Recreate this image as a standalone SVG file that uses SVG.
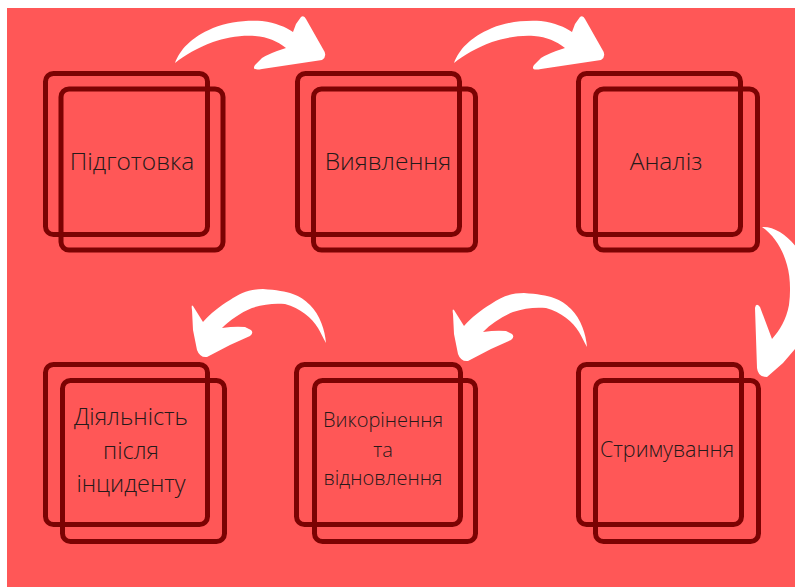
<svg xmlns="http://www.w3.org/2000/svg" width="795" height="587" viewBox="0 0 795 587">
  <style>
    .frame { fill: none; stroke: #7b0303; stroke-width: 5; }
    .label { font-family: "Open Sans", "Liberation Sans", sans-serif; font-weight: 300; fill: #261a1a; text-anchor: middle; }
    .arrow { fill: #ffffff; }
  </style>
  <defs>
    <!-- curved brush arrow pointing right/down, used on the top row -->
    <path id="arrowRight" d="M175,63 C180,50 190,38 213,28 C228,22 245,20 262,21 C276,23 286,27 293,32 L296,24 L301,17 Q304,15 306,19 L323,49 Q328,56 322,60 L262,69 Q251,71 255,65 L262,58 Q270,53 286,48 C277,41 268,37 255,36 C240,35 225,38 213,42 C197,48 185,55 175,63 Z"/>
    <!-- curved brush arrow pointing left/down, used on the bottom row -->
    <path id="arrowLeft" d="M326,343 C325,330 320,315 310,305 C300,295 290,291 263,289 C250,289 240,293 230,300 C220,306 210,314 203,322 L193,306 Q191,304 192,310 L193,330 L197,350 Q200,358 207,357 L230,345 L250,336 Q254,333 251,330 L245,327 Q235,326 222,328 C230,320 240,313 252,308 C263,304 275,303 285,304 C300,308 312,318 318,328 C321,333 323,338 326,343 Z"/>
  </defs>

  <!-- canvas -->
  <rect x="0" y="0" width="795" height="587" fill="#ffffff"/>
  <rect x="7" y="8" width="788" height="579" fill="#ff5757"/>

  <!-- connectors -->
  <g id="connectors">
    <use href="#arrowRight" class="arrow"/>
    <use href="#arrowRight" class="arrow" transform="translate(279,0)"/>
    <path class="arrow" d="M762,227 C776,226 792,238 802,256 L812,300 L800,344 L795,349 L783,363 L767,377 Q758,377 757,368 L755,308 Q756,302 760,307 L772,339 C780,330 786,320 789,305 C791,290 790,275 787,265 C783,250 775,236 762,227 Z"/>
    <use href="#arrowLeft" class="arrow" transform="translate(261,4)"/>
    <use href="#arrowLeft" class="arrow"/>
  </g>

  <!-- node 1 -->
  <g id="node-preparation">
    <rect class="frame" x="45.5" y="73.5" width="162" height="161" rx="8"/>
    <rect class="frame" x="61" y="89" width="162" height="161" rx="8"/>
    <text class="label" x="132" y="170" font-size="24.5">Підготовка</text>
  </g>

  <!-- node 2 -->
  <g id="node-detection">
    <rect class="frame" x="297.5" y="73.5" width="162" height="161" rx="8"/>
    <rect class="frame" x="313.5" y="89" width="162" height="161" rx="8"/>
    <text class="label" x="388" y="170" font-size="24.5">Виявлення</text>
  </g>

  <!-- node 3 -->
  <g id="node-analysis">
    <rect class="frame" x="578.5" y="73.5" width="162" height="161" rx="8"/>
    <rect class="frame" x="595.5" y="89" width="162" height="161" rx="8"/>
    <text class="label" x="666" y="170" font-size="24.5">Аналіз</text>
  </g>

  <!-- node 4 -->
  <g id="node-containment">
    <rect class="frame" x="578.5" y="364.5" width="163" height="160" rx="8"/>
    <rect class="frame" x="595.5" y="380.5" width="163" height="161" rx="8"/>
    <text class="label" x="667" y="457" font-size="21.5">Стримування</text>
  </g>

  <!-- node 5 -->
  <g id="node-eradication">
    <rect class="frame" x="296.5" y="364.5" width="164" height="160" rx="8"/>
    <rect class="frame" x="314.5" y="380.5" width="161" height="161" rx="8"/>
    <text class="label" x="383" y="427" font-size="20">Викорінення</text>
    <text class="label" x="383" y="457" font-size="20">та</text>
    <text class="label" x="383" y="485" font-size="20">відновлення</text>
  </g>

  <!-- node 6 -->
  <g id="node-post-incident">
    <rect class="frame" x="45.5" y="364.5" width="162" height="160" rx="8"/>
    <rect class="frame" x="62.5" y="380.5" width="162" height="161" rx="8"/>
    <text class="label" x="131" y="425" font-size="23.5">Діяльність</text>
    <text class="label" x="131" y="459" font-size="23.5">після</text>
    <text class="label" x="131" y="492" font-size="23.5">інциденту</text>
  </g>
</svg>
